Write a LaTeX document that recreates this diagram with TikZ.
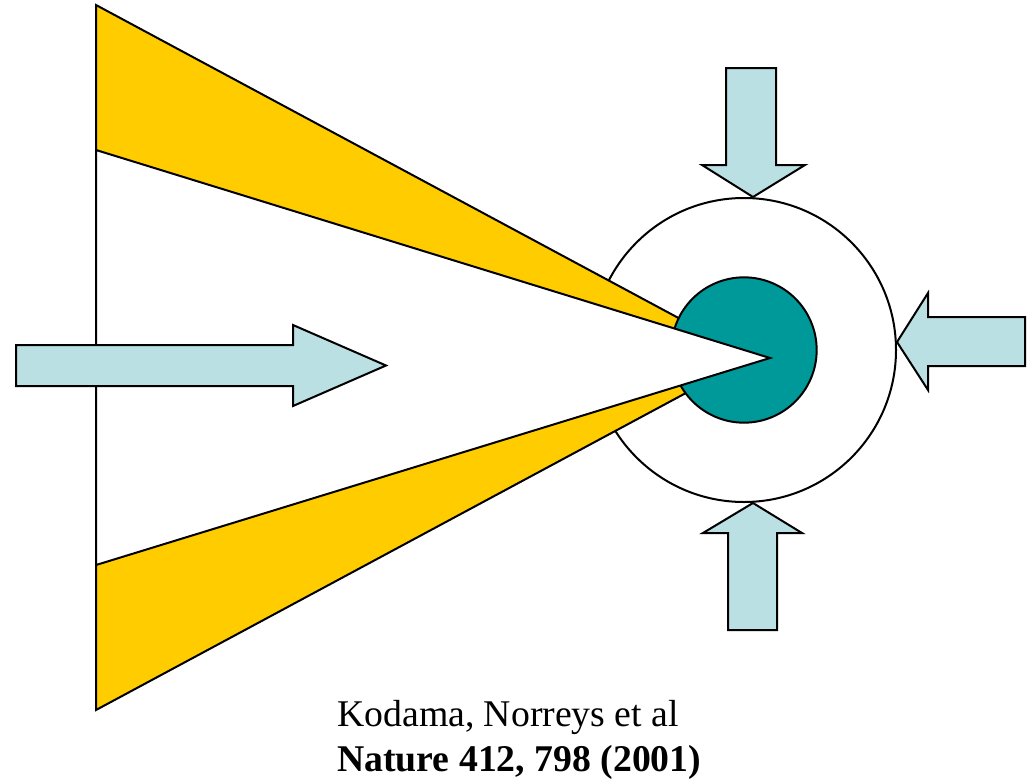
\documentclass[tikz,border=0pt]{standalone}
\usepackage{fontspec}
\setmainfont{Liberation Serif}
\definecolor{conegold}{HTML}{FFCC00}
\definecolor{coreteal}{HTML}{009999}
\definecolor{pushblue}{HTML}{BBE0E3}
\tikzset{
  outline/.style={draw=black, line width=1.5pt, line join=miter},
  pusharrow/.style={outline, fill=pushblue},
  cite/.style={anchor=base west, inner sep=0pt, font=\fontsize{28.3}{34}\selectfont}
}
\begin{document}
\begin{tikzpicture}[x=0.75pt,y=-0.75pt]
  \useasboundingbox (0,0) rectangle (1032,782);
  % shell and core
  \coordinate (c) at (744,350);
  \draw[outline, fill=white] (c) circle[radius=114pt];
  \draw[outline, fill=conegold] (96,5) -- (752,357.5) -- (96,710) -- cycle;
  \draw[outline, fill=coreteal] (c) circle[radius=54.5pt];
  \draw[outline, fill=white] (96,150) -- (770,358) -- (96,565) -- cycle;
  % laser from the left
  \draw[pusharrow] (16,345) -- (293,345) -- (293,325) -- (386,365.5)
    -- (293,406) -- (293,386) -- (16,386) -- cycle;
  % compression from above
  \draw[pusharrow] (726,68) -- (776,68) -- (776,165) -- (805,165)
    -- (753,197) -- (702,165) -- (726,165) -- cycle;
  % compression from the right
  \draw[pusharrow] (1025,317) -- (928,317) -- (928,293) -- (897,342)
    -- (928,390) -- (928,366) -- (1025,366) -- cycle;
  % compression from below
  \draw[pusharrow] (728,630) -- (777,630) -- (777,533) -- (802,533)
    -- (753,503) -- (703,533) -- (728,533) -- cycle;
  % reference
  \node[cite] (authors) at (337,726) {Kodama, Norreys et al};
  \node[cite] (journal) at (337,771) {\bfseries Nature 412, 798 (2001)};
\end{tikzpicture}
\end{document}
